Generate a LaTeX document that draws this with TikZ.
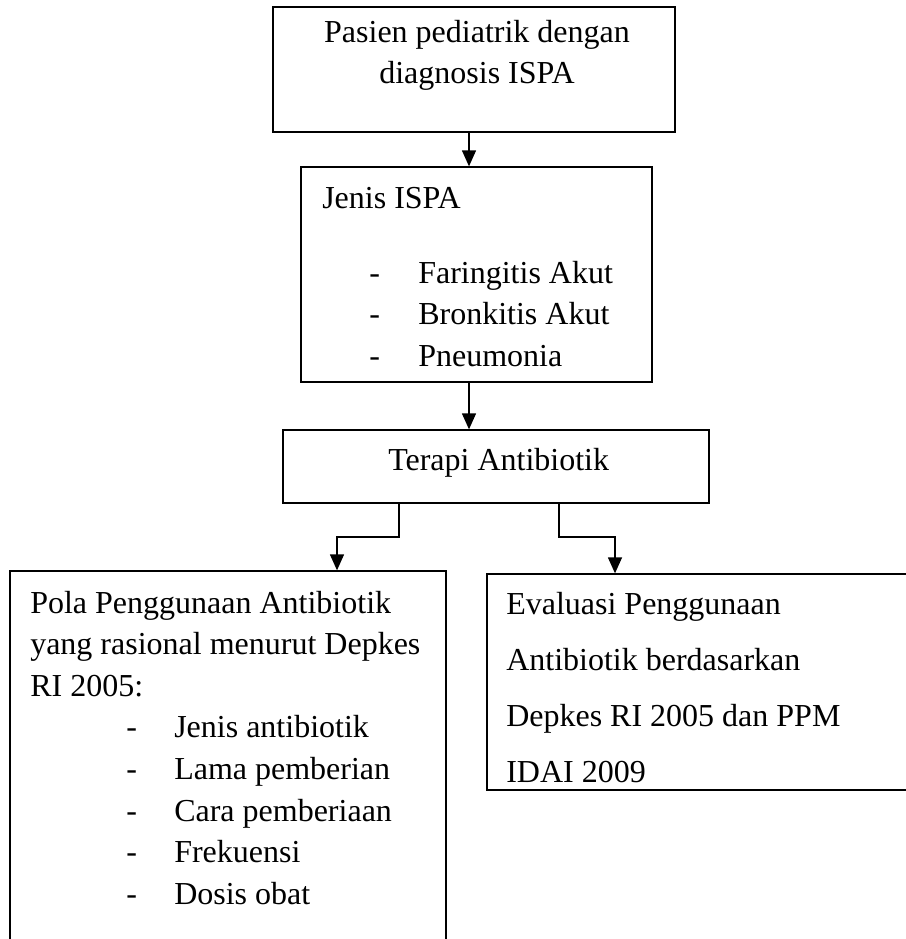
\documentclass[tikz,border=0pt]{standalone}
\usepackage{fontspec}
\setmainfont{Liberation Serif}
\usetikzlibrary{arrows.meta,fit}
\begin{document}
\begin{tikzpicture}[x=0.75pt,y=-0.75pt,
  box/.style={draw=black,line width=1pt,inner sep=0pt,rectangle},
  txt/.style={inner sep=0pt,anchor=base west,font=\fontsize{24}{28}\selectfont},
  ctxt/.style={inner sep=0pt,anchor=base,font=\fontsize{24}{28}\selectfont},
  arr/.style={line width=1pt,-{Triangle[length=12pt,width=10.5pt]}}]
\useasboundingbox (0,0) rectangle (906,939);
\clip (0,0) rectangle (906,939);
\fill[white] (0,0) rectangle (906,939);
% boxes
\node[box,fit={(273,7) (675,132)}] (b1) {};
\node[box,fit={(301,167) (652,382)}] (b2) {};
\node[box,fit={(283,430) (709,503)}] (b3) {};
\node[box,fit={(10,571) (446,960)}] (b4) {};
\node[box,fit={(487,574) (925,790)}] (b5) {};
% box 1 text
\node[ctxt] (t11) at (477,42) {Pasien pediatrik dengan};
\node[ctxt] (t12) at (477,83) {diagnosis ISPA};
% box 2 text
\node[txt] (t21) at (322,208) {Jenis ISPA};
\node[txt] (d21) at (369,283) {-};
\node[txt] (t22) at (418,283) {Faringitis Akut};
\node[txt] (d22) at (369,324) {-};
\node[txt] (t23) at (418,324) {Bronkitis Akut};
\node[txt] (d23) at (369,366) {-};
\node[txt] (t24) at (418,366) {Pneumonia};
% box 3 text
\node[txt] (t31) at (388,470) {Terapi Antibiotik};
% box 4 text
\node[txt] (t41) at (30,613) {Pola Penggunaan Antibiotik};
\node[txt] (t42) at (30,654.6) {yang rasional menurut Depkes};
\node[txt] (t43) at (30,696.2) {RI 2005:};
\node[txt] (d44) at (126,737.8) {-};
\node[txt] (t44) at (174,737.8) {Jenis antibiotik};
\node[txt] (d45) at (126,779.4) {-};
\node[txt] (t45) at (174,779.4) {Lama pemberian};
\node[txt] (d46) at (126,821) {-};
\node[txt] (t46) at (174,821) {Cara pemberiaan};
\node[txt] (d47) at (126,862.6) {-};
\node[txt] (t47) at (174,862.6) {Frekuensi};
\node[txt] (d48) at (126,904.2) {-};
\node[txt] (t48) at (174,904.2) {Dosis obat};
% box 5 text
\node[txt] (t51) at (506,614) {Evaluasi Penggunaan};
\node[txt] (t52) at (506,670) {Antibiotik berdasarkan};
\node[txt] (t53) at (506,726) {Depkes RI 2005 dan PPM};
\node[txt] (t54) at (506,782) {IDAI 2009};
% connectors
\coordinate (ax) at (469,0);
\coordinate (l1) at (399,537);
\coordinate (l2) at (337,537);
\coordinate (r1) at (559,537);
\coordinate (r2) at (615,537);
\draw[arr] (b1.south -| ax) -- (b2.north -| ax);
\draw[arr] (b2.south -| ax) -- (b3.north -| ax);
\draw[arr] (b3.south -| l1) -- (l1) -- (l2) -- (b4.north -| l2);
\draw[arr] (b3.south -| r1) -- (r1) -- (r2) -- (b5.north -| r2);
\end{tikzpicture}
\end{document}
